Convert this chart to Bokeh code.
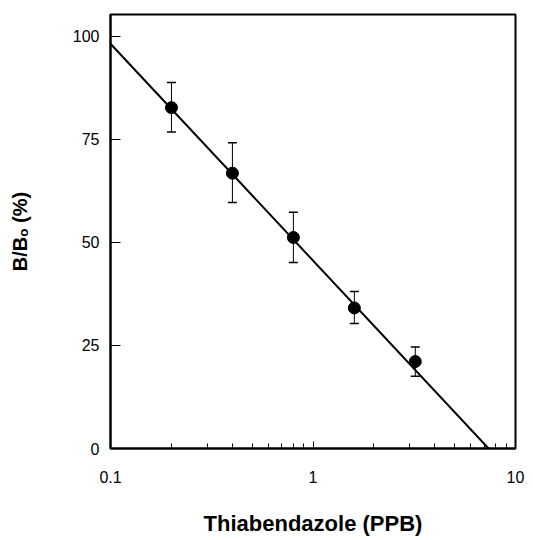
from bokeh.plotting import figure
from bokeh.models import Range1d, FixedTicker, Whisker, ColumnDataSource, TeeHead
from bokeh.embed import file_html
from bokeh.resources import INLINE

# ---- data ----
concentration = [0.2, 0.4, 0.8, 1.6, 3.2]
b_over_b0 = [82.7, 66.8, 51.2, 34.1, 21.1]
err_upper = [88.8, 74.2, 57.3, 38.1, 24.6]
err_lower = [76.8, 59.7, 45.1, 30.3, 17.5]

fit_x = [0.1, 7.36]
fit_y = [98.2, 0.0]

x_major_ticks = [0.1, 1, 10]
x_tick_labels = ["0.1", "1", "10"]
x_minor_ticks = [0.2, 0.3, 0.4, 0.5, 0.6, 0.7, 0.8, 0.9, 2, 3, 4, 5, 6, 7, 8, 9]
y_ticks = [0, 25, 50, 75, 100]
y_tick_labels = ["0", "25", "50", "75", "100"]

x_label = "Thiabendazole (PPB)"
y_label = "B/B\u2092 (%)"

p = figure(width=533, height=540, x_axis_type="log",
           x_range=Range1d(0.1, 10), y_range=Range1d(0, 105.3),
           output_backend="svg", toolbar_location=None,
           min_border_left=110, min_border_right=18,
           min_border_top=14, min_border_bottom=92)

p.background_fill_color = "white"
p.border_fill_color = "white"
p.outline_line_color = "black"
p.outline_line_width = 2
p.grid.visible = False

# x axis
xa = p.xaxis[0]
xa.ticker = FixedTicker(ticks=x_major_ticks, minor_ticks=x_minor_ticks)
xa.major_label_overrides = {t: l for t, l in zip(x_major_ticks, x_tick_labels)}
xa.major_tick_in = 7
xa.major_tick_out = 0
xa.minor_tick_in = 5
xa.minor_tick_out = 0
xa.axis_line_width = 2
xa.major_tick_line_width = 1
xa.minor_tick_line_width = 1
xa.major_label_standoff = 22
xa.major_label_text_font = "Liberation Sans"
xa.major_label_text_font_size = "16px"
xa.major_label_text_color = "black"
xa.axis_label = x_label
xa.axis_label_text_font = "Liberation Sans"
xa.axis_label_text_font_style = "bold"
xa.axis_label_text_font_size = "22px"
xa.axis_label_text_color = "black"
xa.axis_label_standoff = 25

# y axis
ya = p.yaxis[0]
ya.ticker = FixedTicker(ticks=y_ticks, minor_ticks=[])
ya.major_label_overrides = {t: l for t, l in zip(y_ticks, y_tick_labels)}
ya.major_tick_in = 10
ya.major_tick_out = 0
ya.minor_tick_in = 0
ya.minor_tick_out = 0
ya.axis_line_width = 2
ya.major_label_standoff = 11
ya.major_label_text_font = "Liberation Sans"
ya.major_label_text_font_size = "16px"
ya.major_label_text_color = "black"
ya.axis_label = y_label
ya.axis_label_text_font = "Liberation Sans"
ya.axis_label_text_font_style = "bold"
ya.axis_label_text_font_size = "20px"
ya.axis_label_text_color = "black"
ya.axis_label_standoff = 39

# fitted line
p.line(fit_x, fit_y, line_color="black", line_width=2)

# error bars
src = ColumnDataSource(data=dict(x=concentration, y=b_over_b0,
                                 upper=err_upper, lower=err_lower))
wh = Whisker(base="x", upper="upper", lower="lower", source=src,
             line_color="black", line_width=1,
             upper_head=TeeHead(size=9, line_color="black", line_width=1.5),
             lower_head=TeeHead(size=9, line_color="black", line_width=1.5))
p.add_layout(wh)

# points
p.scatter("x", "y", source=src, size=12, fill_color="black", line_color="black")

open("out.html", "w").write(file_html(p, INLINE))
